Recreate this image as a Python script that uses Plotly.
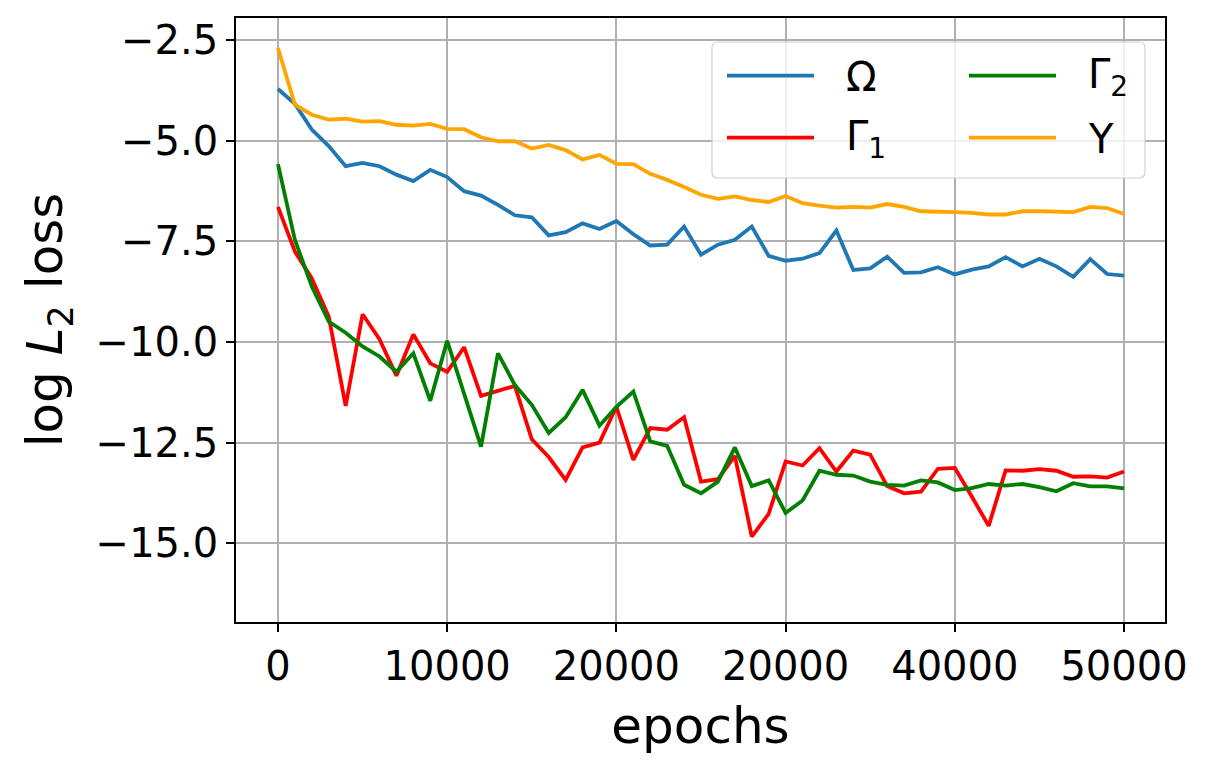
import plotly.graph_objects as go

epochs = list(range(0, 50001, 1000))

omega = [-3.71, -4.08, -4.72, -5.13, -5.63, -5.55, -5.63, -5.84, -6.00, -5.72,
         -5.90, -6.25, -6.36, -6.59, -6.85, -6.90, -7.35, -7.27, -7.05, -7.19,
         -6.99, -7.32, -7.60, -7.58, -7.13, -7.83, -7.58, -7.46, -7.13, -7.86,
         -7.98, -7.93, -7.79, -7.23, -8.21, -8.17, -7.88, -8.28, -8.27, -8.14,
         -8.32, -8.20, -8.12, -7.89, -8.12, -7.93, -8.12, -8.38, -7.94, -8.31,
         -8.35]

gamma1 = [-6.64, -7.75, -8.42, -9.37, -11.59, -9.31, -9.93, -10.84, -9.81, -10.53,
          -10.74, -10.13, -11.34, -11.21, -11.09, -12.42, -12.86, -13.43, -12.62, -12.50,
          -11.61, -12.93, -12.14, -12.18, -11.87, -13.47, -13.41, -12.83, -14.84, -14.27,
          -12.97, -13.07, -12.64, -13.22, -12.70, -12.80, -13.58, -13.76, -13.72, -13.15,
          -13.13, -13.84, -14.57, -13.19, -13.20, -13.16, -13.20, -13.35, -13.34, -13.37,
          -13.22]

gamma2 = [-5.58, -7.46, -8.62, -9.49, -9.77, -10.11, -10.36, -10.74, -10.28, -11.46,
          -9.97, -11.28, -12.60, -10.28, -11.07, -11.56, -12.26, -11.87, -11.19, -12.08,
          -11.61, -11.23, -12.47, -12.58, -13.55, -13.76, -13.47, -12.62, -13.58, -13.44,
          -14.25, -13.94, -13.20, -13.30, -13.32, -13.47, -13.55, -13.57, -13.44, -13.49,
          -13.68, -13.63, -13.53, -13.57, -13.53, -13.61, -13.71, -13.51, -13.59, -13.59,
          -13.64]

upsilon = [-2.69, -4.10, -4.35, -4.47, -4.45, -4.52, -4.51, -4.60, -4.62, -4.58,
           -4.70, -4.71, -4.91, -5.01, -5.01, -5.19, -5.10, -5.23, -5.46, -5.35,
           -5.57, -5.58, -5.82, -5.97, -6.15, -6.34, -6.44, -6.38, -6.47, -6.52,
           -6.37, -6.55, -6.61, -6.66, -6.64, -6.66, -6.57, -6.64, -6.75, -6.75,
           -6.77, -6.79, -6.83, -6.83, -6.75, -6.75, -6.77, -6.77, -6.64, -6.67,
           -6.82]

x_tickvals = [0, 10000, 20000, 30000, 40000, 50000]
x_ticktext = ["0", "10000", "20000", "20000", "40000", "50000"]
y_tickvals = [-15, -12.5, -10, -7.5, -5, -2.5]
y_ticktext = ["\u221215.0", "\u221212.5", "\u221210.0", "\u22127.5", "\u22125.0", "\u22122.5"]

# name, values, colour, legend column, legend row
series = [
    ("\u03a9", omega, "#1f77b4", 0, 0),
    ("\u0393<sub>1</sub>", gamma1, "#ff0000", 0, 1),
    ("\u0393<sub>2</sub>", gamma2, "#008000", 1, 0),
    ("\u03a5", upsilon, "#ffa500", 1, 1),
]

FONT = "DejaVu Sans"
PAGE_OFF = 8  # default body margin of the html page
W, H = 1209 - PAGE_OFF, 770 - PAGE_OFF
# desired plot area in page pixels: x 236..1165, y 18..622
L, T = 236 - PAGE_OFF, 18 - PAGE_OFF
R, B = W - (1165 - PAGE_OFF), H - (622 - PAGE_OFF)
PW, PH = W - L - R, H - T - B


def px(x):
    return (x - PAGE_OFF - L) / PW


def py(y):
    return 1 - (y - PAGE_OFF - T) / PH


fig = go.Figure()
for name, vals, color, col, row in series:
    fig.add_trace(go.Scatter(
        x=epochs, y=vals, mode="lines", name=name,
        line=dict(color=color, width=3.8),
        showlegend=False,
    ))

# legend box (rounded rectangle), page pixel positions
bx0, bx1, by0, by1, rr = 712, 1145, 42, 178, 6
path = (
    f"M {px(bx0 + rr)},{py(by0)} L {px(bx1 - rr)},{py(by0)} "
    f"Q {px(bx1)},{py(by0)} {px(bx1)},{py(by0 + rr)} "
    f"L {px(bx1)},{py(by1 - rr)} Q {px(bx1)},{py(by1)} {px(bx1 - rr)},{py(by1)} "
    f"L {px(bx0 + rr)},{py(by1)} Q {px(bx0)},{py(by1)} {px(bx0)},{py(by1 - rr)} "
    f"L {px(bx0)},{py(by0 + rr)} Q {px(bx0)},{py(by0)} {px(bx0 + rr)},{py(by0)} Z"
)
fig.add_shape(type="path", path=path, xref="paper", yref="paper",
              fillcolor="rgba(255,255,255,0.8)", line=dict(color="#d0d0d0", width=1.2),
              layer="above")

col_x = [727, 969]
row_y = [75.7, 137.7]
for name, vals, color, col, row in series:
    lx0 = col_x[col]
    ly = row_y[row]
    fig.add_shape(type="line", xref="paper", yref="paper",
                  x0=px(lx0), x1=px(lx0 + 87), y0=py(ly), y1=py(ly),
                  line=dict(color=color, width=3.8), layer="above")
    fig.add_annotation(xref="paper", yref="paper", x=px(lx0 + 117), y=py(ly + 1),
                       text=name, showarrow=False, xanchor="left", yanchor="middle",
                       font=dict(family=FONT, size=40, color="black"))

axis_common = dict(
    showline=True, linecolor="black", linewidth=1.6, mirror=True,
    showgrid=True, gridcolor="#b0b0b0", gridwidth=1.8,
    ticks="outside", ticklen=8, tickwidth=1.6, tickcolor="black",
    tickfont=dict(family=FONT, size=40, color="black"),
    zeroline=False, automargin=False,
)

fig.update_layout(
    width=W, height=H,
    margin=dict(l=L, r=R, t=T, b=B),
    paper_bgcolor="white", plot_bgcolor="white",
    font=dict(family=FONT, color="black"),
    xaxis=dict(range=[-2480, 52420], tickvals=x_tickvals, ticktext=x_ticktext,
               title=dict(text="epochs", font=dict(family=FONT, size=50), standoff=20),
               **axis_common),
    yaxis=dict(range=[-16.96, -1.946], tickvals=y_tickvals, ticktext=y_ticktext,
               title=dict(text="log <i>L</i><sub>2</sub> loss", font=dict(family=FONT, size=50), standoff=17),
               **axis_common),
    showlegend=False,
)

fig.write_html("out.html")
